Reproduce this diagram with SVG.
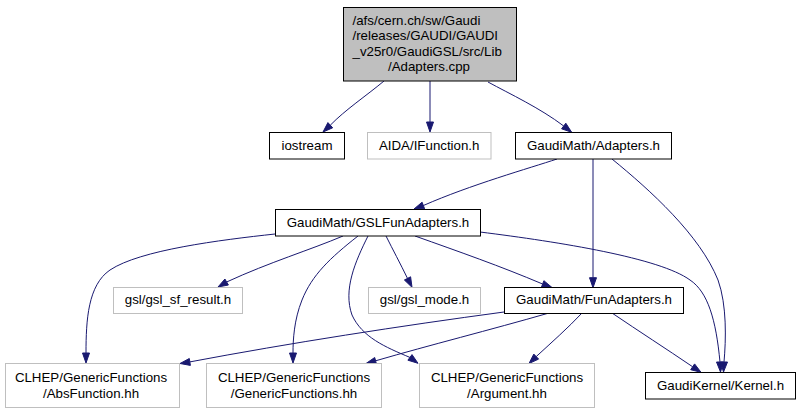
<svg xmlns="http://www.w3.org/2000/svg" width="800" height="413" viewBox="0 0 800 413">
<style>
.bg{fill:#ffffff}
.n rect{fill:#ffffff;stroke:#000000;stroke-width:1}
.g rect{fill:#ffffff;stroke:#bfbfbf;stroke-width:1}
#main rect{fill:#bfbfbf;stroke:#000000}
text{font-family:"Liberation Sans",Arial,Helvetica,sans-serif;font-size:13.3px;fill:#000000}
.m{text-anchor:middle}
#edges path{fill:none;stroke:#191970;stroke-width:1}
#edges polygon{fill:#191970;stroke:#191970;stroke-width:1}
</style>
<rect class="bg" x="0" y="0" width="800" height="413"/>
<g id="edges">
<path d="M384,81 C366,96 345,110 330.3,125.2"/><polygon points="332.7,127.8 327.9,122.6 323,132"/>
<path d="M430,81 L430,122"/><polygon points="426.5,122 433.5,122 430,132"/>
<path d="M488,82 C510,94 540,108 563.7,126"/><polygon points="561.6,128.8 565.8,123.2 571.7,132.3"/>
<path d="M557,159 C530,168 470,185 423.4,205.5"/><polygon points="424.6,208.8 422.1,202.2 414,209"/>
<path d="M593,159 L593,277.7"/><polygon points="589.5,277.7 596.5,277.7 593,287.7"/>
<path d="M612,159 C650,190 700,235 718,280 C727,305 726,340 724,362"/><polygon points="720.5,362 727.5,362 723.5,372"/>
<path d="M275,234 C220,240 140,250 110,270 C88,285 86,320 86,353"/><polygon points="82.5,353 89.5,353 86,363"/>
<path d="M343,236 C310,250 270,262 226.6,282"/><polygon points="228.4,285 224.9,279 218,287"/>
<path d="M358,236 C330,258 312,275 302,300 C294,320 293,340 293,353"/><polygon points="289.5,353 296.5,353 293,363"/>
<path d="M368,236 C355,262 343,290 352,315 C362,337 385,347 409.9,357.4"/><polygon points="407.9,360.2 412,354.6 418,363.3"/>
<path d="M386,236 C393,250 400,263 407.5,278.4"/><polygon points="404.4,280 410.6,276.8 412,287.3"/>
<path d="M415,236 C460,252 500,266 542.6,284"/><polygon points="541.4,287.3 543.9,280.7 552,287.5"/>
<path d="M480,232 C560,242 660,258 690,280 C708,292 716,320 720,362"/><polygon points="716.5,362 723.5,362 720.5,372"/>
<path d="M504,312 C400,326 290,343 189.9,361.9"/><polygon points="190.4,365.4 189.3,358.5 180,363.5"/>
<path d="M549,313 C490,330 430,345 375.6,360.8"/><polygon points="376.5,364.2 374.7,357.5 366,363.5"/>
<path d="M582,313 C568,328 552,342 536.2,356.6"/><polygon points="538.6,359.1 533.8,354.1 529,363.5"/>
<path d="M612,313 C640,332 665,348 692.7,366.8"/><polygon points="690.7,369.7 694.6,363.9 701,372.3"/>
</g>
<g id="main" class="n"><rect x="343.5" y="7.5" width="173" height="73.5"/>
<text x="352.5" y="24.5">/afs/cern.ch/sw/Gaudi</text>
<text x="352.5" y="40">/releases/GAUDI/GAUDI</text>
<text x="352.5" y="55.5">_v25r0/GaudiGSL/src/Lib</text>
<text class="m" x="429" y="71">/Adapters.cpp</text></g>
<g id="iostream" class="n"><rect x="269.5" y="132.5" width="75" height="26.5"/><text class="m" x="307" y="149.5">iostream</text></g>
<g id="aida" class="g"><rect x="367.5" y="132.5" width="123.5" height="26.5"/><text class="m" x="429.2" y="149.5">AIDA/IFunction.h</text></g>
<g id="adapters" class="n"><rect x="515.5" y="132.5" width="156" height="26.5"/><text class="m" x="593.5" y="149.5">GaudiMath/Adapters.h</text></g>
<g id="gslfun" class="n"><rect x="275.5" y="209.5" width="205" height="26.5"/><text class="m" x="378" y="226.5">GaudiMath/GSLFunAdapters.h</text></g>
<g id="sfresult" class="g"><rect x="113.5" y="287.5" width="129" height="26"/><text class="m" x="178" y="304">gsl/gsl_sf_result.h</text></g>
<g id="gslmode" class="g"><rect x="368.5" y="287.5" width="112" height="26"/><text class="m" x="424.5" y="304">gsl/gsl_mode.h</text></g>
<g id="funadapters" class="n"><rect x="504.5" y="287.5" width="179" height="26"/><text class="m" x="594" y="304">GaudiMath/FunAdapters.h</text></g>
<g id="absfunction" class="g"><rect x="5.5" y="363.5" width="174" height="44"/><text class="m" x="91" y="382">CLHEP/GenericFunctions</text><text class="m" x="91" y="397.5">/AbsFunction.hh</text></g>
<g id="genericfunctions" class="g"><rect x="206.5" y="363.5" width="175" height="44"/><text class="m" x="294" y="382">CLHEP/GenericFunctions</text><text class="m" x="294" y="397.5">/GenericFunctions.hh</text></g>
<g id="argument" class="g"><rect x="419.5" y="363.5" width="175" height="44"/><text class="m" x="507" y="382">CLHEP/GenericFunctions</text><text class="m" x="507" y="397.5">/Argument.hh</text></g>
<g id="kernel" class="n"><rect x="645.5" y="372.5" width="150" height="26.5"/><text class="m" x="720.5" y="389.5">GaudiKernel/Kernel.h</text></g>
</svg>
